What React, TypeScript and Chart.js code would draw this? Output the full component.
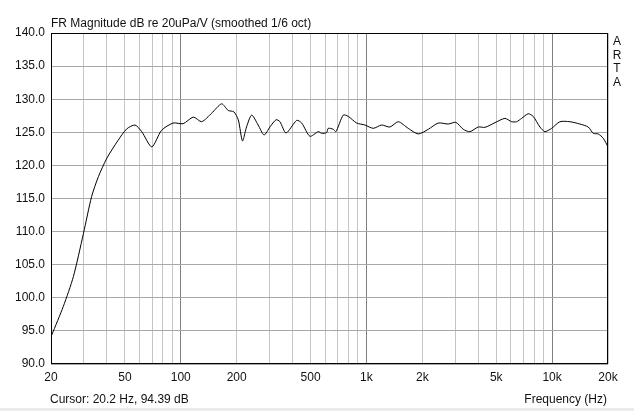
import React, { useEffect, useRef } from "react";
import { Chart, registerables } from "chart.js";

Chart.register(...registerables);

const titleText = "FR Magnitude dB re 20uPa/V (smoothed 1/6 oct)";
const cursorText = "Cursor: 20.2 Hz, 94.39 dB";
const xAxisTitle = "Frequency (Hz)";
const sideLabel = ["A", "R", "T", "A"];

const freqHz = [
  20.2, 23.3, 26.4, 29.9, 33.1, 36.0, 40.0, 46.0, 51.1, 56.7, 61.6, 69.8, 78.8, 91, 103,
  116.8, 129.6, 146.8, 166, 180, 193, 204, 215, 226, 241, 261, 281, 302, 326, 342, 369,
  421, 448, 496, 550, 574, 610, 623, 663, 685, 750, 798, 886, 982, 1088, 1207, 1338,
  1484, 1679, 1900, 2152, 2436, 2758, 3034, 3322, 3610, 4000, 4348, 4920, 5570, 6054,
  6440, 6848, 7436, 7912, 8598, 9146, 9940, 11016, 12470, 14118, 15646, 16646, 17714,
  18848, 20000,
];
const magnitudeDb = [
  94.4, 98.7, 103.2, 109.7, 115.3, 118.3, 121.1, 123.8, 125.5, 126.1, 125.1, 122.8, 125.3,
  126.4, 126.3, 127.3, 126.6, 127.9, 129.3, 128.3, 128.1, 126.9, 123.7, 125.8, 127.6,
  126.1, 124.6, 125.8, 126.9, 126.6, 124.9, 126.8, 126.4, 124.4, 125.1, 124.85, 124.95,
  125.6, 125.45, 125.1, 127.6, 127.4, 126.4, 126.1, 125.6, 126.1, 125.8, 126.6, 125.6,
  124.75, 125.45, 126.4, 126.25, 126.5, 125.45, 125.1, 125.8, 125.75, 126.45, 127.1,
  126.6, 126.6, 127.1, 127.8, 127.4, 125.8, 125.1, 125.6, 126.6, 126.6, 126.25, 125.8,
  124.85, 124.75, 124.1, 122.8,
];

const xGridValues = [
  20, 30, 40, 50, 60, 70, 80, 90, 100, 200, 300, 400, 500, 600, 700, 800, 900, 1000,
  2000, 3000, 4000, 5000, 6000, 7000, 8000, 9000, 10000, 20000,
];
const xLabeled = [20, 50, 100, 200, 500, 1000, 2000, 5000, 10000, 20000];
const xLabelText = ["20", "50", "100", "200", "500", "1k", "2k", "5k", "10k", "20k"];
const decadeValues = [100, 1000, 10000];

const yMin = 90;
const yMax = 140;
const yStep = 5;

const FONT = "'Liberation Sans', Arial, sans-serif";

const decorPlugin = {
  id: "decor",
  afterDraw(chart: any) {
    const { ctx, chartArea } = chart;
    ctx.save();
    ctx.strokeStyle = "#000";
    ctx.lineWidth = 1;
    ctx.strokeRect(
      Math.round(chartArea.left) + 0.5,
      Math.round(chartArea.top) + 0.5,
      Math.round(chartArea.right - chartArea.left) - 1,
      Math.round(chartArea.bottom - chartArea.top) - 1
    );
    ctx.fillStyle = "#111";
    ctx.font = `12px ${FONT}`;
    ctx.textBaseline = "alphabetic";
    ctx.textAlign = "left";
    ctx.fillText(titleText, 51, 27);
    ctx.fillText(cursorText, 50, 403);
    ctx.textAlign = "right";
    ctx.fillText(xAxisTitle, 607, 403);
    ctx.textAlign = "center";
    sideLabel.forEach((ch, i) => {
      ctx.fillText(ch, 617, 45 + i * 13.5);
    });
    ctx.fillStyle = "#ececec";
    ctx.fillRect(0, 408, 634, 3);
    ctx.restore();
  },
};

export default function App() {
  const ref = useRef<HTMLCanvasElement | null>(null);

  useEffect(() => {
    if (!ref.current) return;
    const chart = new Chart(ref.current, {
      type: "line",
      data: {
        datasets: [
          {
            data: freqHz.map((f, i) => ({ x: f, y: magnitudeDb[i] })),
            borderColor: "#000",
            borderWidth: 1,
            pointRadius: 0,
            tension: 0.25,
            fill: false,
          },
        ],
      },
      options: {
        animation: false,
        responsive: false,
        devicePixelRatio: 1,
        layout: { padding: { left: 0, top: 33, right: 26, bottom: 0 } },
        plugins: { legend: { display: false }, tooltip: { enabled: false }, title: { display: false } },
        scales: {
          x: {
            type: "logarithmic",
            min: 20,
            max: 20000,
            afterFit(scale: any) {
              scale.height = 47;
            },
            afterBuildTicks(scale: any) {
              scale.ticks = xGridValues.map((v) => ({ value: v }));
            },
            ticks: {
              autoSkip: false,
              maxRotation: 0,
              padding: 6,
              color: "#111",
              font: { family: FONT, size: 12 },
              callback(value: any) {
                const idx = xLabeled.indexOf(Number(value));
                return idx >= 0 ? xLabelText[idx] : "";
              },
            },
            grid: {
              drawTicks: false,
              color(ctx: any) {
                const v = ctx.tick && ctx.tick.value;
                return decadeValues.includes(v) ? "#808080" : "#c4c4c4";
              },
              lineWidth: 1,
            },
            border: { display: false },
          },
          y: {
            type: "linear",
            min: yMin,
            max: yMax,
            afterFit(scale: any) {
              scale.width = 51;
            },
            ticks: {
              stepSize: yStep,
              padding: 6,
              color: "#111",
              font: { family: FONT, size: 12 },
              callback(value: any) {
                return Number(value).toFixed(1);
              },
            },
            grid: { drawTicks: false, color: "#a8a8a8", lineWidth: 1 },
            border: { display: false },
          },
        },
      },
      plugins: [decorPlugin],
    });
    return () => chart.destroy();
  }, []);

  return (
    <div style={{ position: "absolute", left: 0, top: 0, width: 634, height: 411, background: "#fff" }}>
      <canvas ref={ref} width={634} height={411} style={{ display: "block" }} />
    </div>
  );
}
